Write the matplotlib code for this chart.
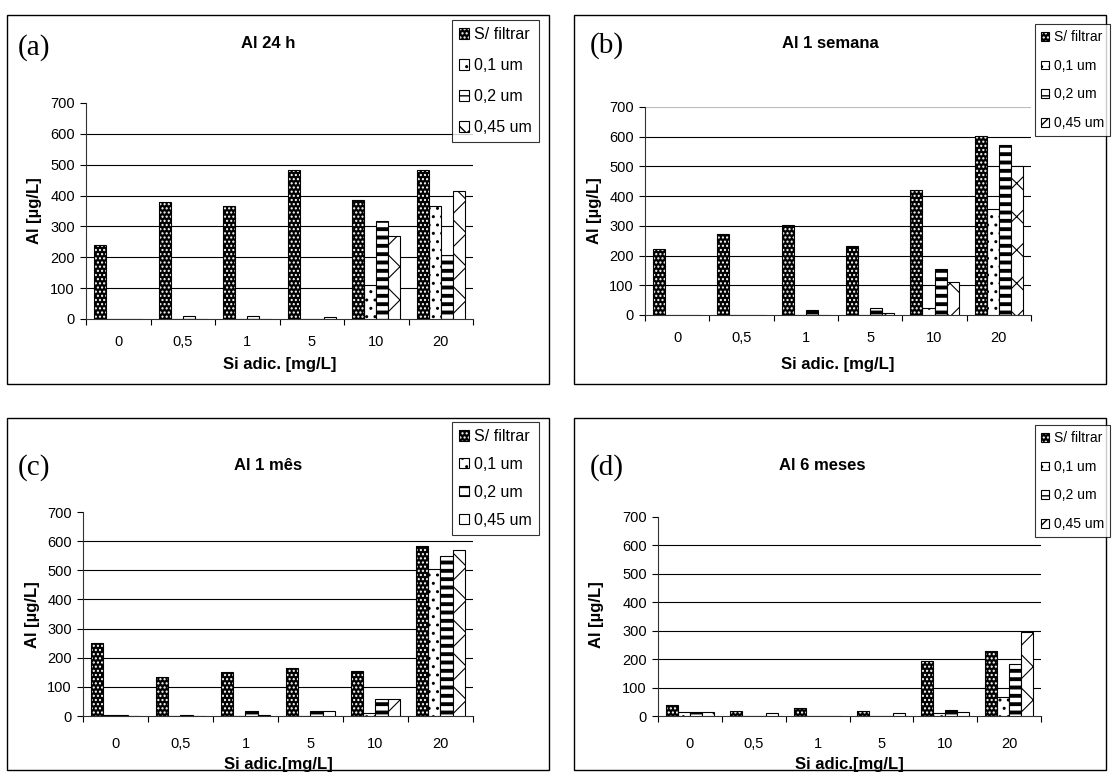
import matplotlib
matplotlib.use("Agg")
import matplotlib.pyplot as plt
from matplotlib.patches import Patch, Rectangle
import numpy as np

plt.rcParams['font.family'] = ['Liberation Sans', 'DejaVu Sans']

categories = ["0", "0,5", "1", "5", "10", "20"]
series_names = ["S/ filtrar", "0,1 um", "0,2 um", "0,45 um"]

# Panel (a) Al 24 h
a_sf = [240, 379, 366, 483, 387, 483]
a_01 = [0, 0, 0, 0, 109, 366]
a_02 = [0, 10, 10, 0, 318, 206]
a_045 = [0, 0, 0, 8, 270, 415]
# Panel (b) Al 1 semana
b_sf = [221, 271, 303, 232, 419, 604]
b_01 = [0, 0, 0, 0, 23, 357]
b_02 = [0, 0, 16, 23, 154, 572]
b_045 = [0, 0, 0, 7, 110, 500]
# Panel (c) Al 1 mes
c_sf = [251, 133, 150, 165, 155, 582]
c_01 = [5, 0, 0, 0, 9, 506]
c_02 = [5, 5, 17, 17, 60, 550]
c_045 = [0, 0, 5, 17, 60, 568]
# Panel (d) Al 6 meses
d_sf = [38, 19, 29, 19, 192, 230]
d_01 = [14, 0, 0, 0, 11, 67]
d_02 = [14, 0, 0, 0, 20, 183]
d_045 = [14, 11, 0, 11, 14, 295]

yticks = [0, 100, 200, 300, 400, 500, 600, 700]

W, H = 1112, 776
fig = plt.figure(figsize=(W / 100, H / 100), dpi=100)


def fx(x):
    return x / W


def fy(y):
    return 1 - y / H


def styled_bars(ax, x, h, kind, width):
    if kind == "sf":
        with plt.rc_context({'hatch.linewidth': 1.0}):
            ax.bar(x, h, width, color="black", edgecolor="white",
                   hatch="....", linewidth=0, zorder=3)
        ax.bar(x, h, width, fill=False, edgecolor="black", linewidth=0.8, zorder=4)
    elif kind == "01":
        with plt.rc_context({'hatch.linewidth': 1.0}):
            ax.bar(x, h, width, color="white", edgecolor="black",
                   hatch="..", linewidth=0.8, zorder=3)
    elif kind == "02":
        with plt.rc_context({'hatch.linewidth': 2.8}):
            bars = ax.bar(x, h, width, color="white", edgecolor="black",
                          hatch="--", linewidth=0.8, zorder=3)
            for b in bars:
                if hasattr(b, "set_hatch_linewidth"):
                    b.set_hatch_linewidth(2.8)
    else:
        with plt.rc_context({'hatch.linewidth': 0.8}):
            ax.bar(x, h, width, color="white", edgecolor="black",
                   hatch="x", linewidth=0.8, zorder=3)


def legend_handles():
    h_sf = (Patch(facecolor="black", edgecolor="white", hatch="....", linewidth=0),
            Patch(fill=False, edgecolor="black", linewidth=0.8))
    h_01 = Patch(facecolor="white", edgecolor="black", hatch="..", linewidth=0.8)
    h_02 = Patch(facecolor="white", edgecolor="black", hatch="--", linewidth=0.8)
    h_045 = Patch(facecolor="white", edgecolor="black", hatch="x", linewidth=0.8)
    return [h_sf, h_01, h_02, h_045]


panels = [
    dict(tag="(a)", title="Al 24 h", data=(a_sf, a_01, a_02, a_045),
         box=(7, 15, 549, 384), ax=(86, 103, 473, 319), xlabel="Si adic. [mg/L]",
         tagpos=(18, 48), titlepos=(268, 44),
         leg=dict(loc="upper left", x=452, y=20, fs=11.5, sp=1.0),
         ylabpos=(34, 211), catlab=342, xlabpos=364, top_grid=False),
    dict(tag="(b)", title="Al 1 semana", data=(b_sf, b_01, b_02, b_045),
         box=(574, 15, 1106, 384), ax=(645, 107, 1031, 315), xlabel="Si adic. [mg/L]",
         tagpos=(590, 46), titlepos=(830, 44),
         leg=dict(loc="upper right", x=1110, y=24, fs=10, sp=1.05),
         ylabpos=(594, 211), catlab=338, xlabpos=364, top_grid=True),
    dict(tag="(c)", title="Al 1 mês", data=(c_sf, c_01, c_02, c_045),
         box=(7, 418, 549, 770), ax=(83, 512, 473, 716), xlabel="Si adic.[mg/L]",
         tagpos=(18, 468), titlepos=(268, 466),
         leg=dict(loc="upper left", x=452, y=422, fs=11.5, sp=0.8),
         ylabpos=(32, 615), catlab=744, xlabpos=765, top_grid=False),
    dict(tag="(d)", title="Al 6 meses", data=(d_sf, d_01, d_02, d_045),
         box=(574, 418, 1106, 770), ax=(658, 517, 1041, 716), xlabel="Si adic.[mg/L]",
         tagpos=(590, 468), titlepos=(822, 466),
         leg=dict(loc="upper right", x=1110, y=425, fs=10, sp=1.05),
         ylabpos=(596, 615), catlab=744, xlabpos=765, top_grid=False),
]

kinds = ["sf", "01", "02", "045"]
bw = 0.1875
offsets = [-1.5 * bw, -0.5 * bw, 0.5 * bw, 1.5 * bw]

for p in panels:
    x0, y0, x1, y1 = p["box"]
    fig.add_artist(Rectangle((fx(x0), fy(y1)), fx(x1 - x0), (y1 - y0) / H,
                             transform=fig.transFigure, fill=False,
                             edgecolor="black", linewidth=1.0, zorder=0))
    l, t, r, b = p["ax"]
    ax = fig.add_axes([fx(l), fy(b), fx(r - l), (b - t) / H])
    ax.set_facecolor("none")
    xc = np.arange(len(categories)) + 0.5
    for vals, kind, off in zip(p["data"], kinds, offsets):
        styled_bars(ax, xc + off, vals, kind, bw)
    ax.set_xlim(0, len(categories))
    ax.set_ylim(0, 700)
    for yv in yticks[1:-1]:
        ax.axhline(yv, color="black", linewidth=0.8, zorder=1)
    if p["top_grid"]:
        ax.axhline(700, color="#bbbbbb", linewidth=0.8, zorder=1)
    for s in ["top", "right"]:
        ax.spines[s].set_visible(False)
    for s in ["left", "bottom"]:
        ax.spines[s].set_linewidth(0.8)
        ax.spines[s].set_color("#333333")
    ax.set_yticks(yticks)
    ax.set_yticklabels([str(v) for v in yticks], fontsize=10.5)
    ax.tick_params(axis="y", length=4, width=0.8, pad=4)
    ax.set_xticks(np.arange(len(categories) + 1))
    ax.set_xticklabels([])
    ax.tick_params(axis="x", which="major", length=4, width=0.8, direction="out")
    for i, c in enumerate(categories):
        fig.text(fx(l + (r - l) * (i + 0.5) / len(categories)), fy(p["catlab"]), c,
                 ha="center", va="center", fontsize=10.5)
    fig.text(fx((l + r) / 2), fy(p["xlabpos"]), p["xlabel"], ha="center", va="center",
             fontsize=12, fontweight="bold")
    fig.text(fx(p["ylabpos"][0]), fy(p["ylabpos"][1]), "Al [µg/L]", ha="center",
             va="center", rotation=90, fontsize=12, fontweight="bold")
    fig.text(fx(p["titlepos"][0]), fy(p["titlepos"][1]), p["title"], ha="center",
             va="center", fontsize=12, fontweight="bold")
    fig.text(fx(p["tagpos"][0]), fy(p["tagpos"][1]), p["tag"], ha="left", va="center",
             fontsize=21, family=["Liberation Serif", "DejaVu Serif"])
    lg = p["leg"]
    leg = fig.legend(legend_handles(), series_names, loc=lg["loc"],
                     bbox_to_anchor=(fx(lg["x"]), fy(lg["y"])), bbox_transform=fig.transFigure,
                     fontsize=lg["fs"], frameon=True, fancybox=False, shadow=False,
                     handlelength=0.6, handleheight=0.6, handletextpad=0.3,
                     labelspacing=lg["sp"], borderpad=0.45, borderaxespad=0)
    leg.get_frame().set_edgecolor("black")
    leg.get_frame().set_linewidth(0.8)

fig.savefig("out.png", dpi=100)
